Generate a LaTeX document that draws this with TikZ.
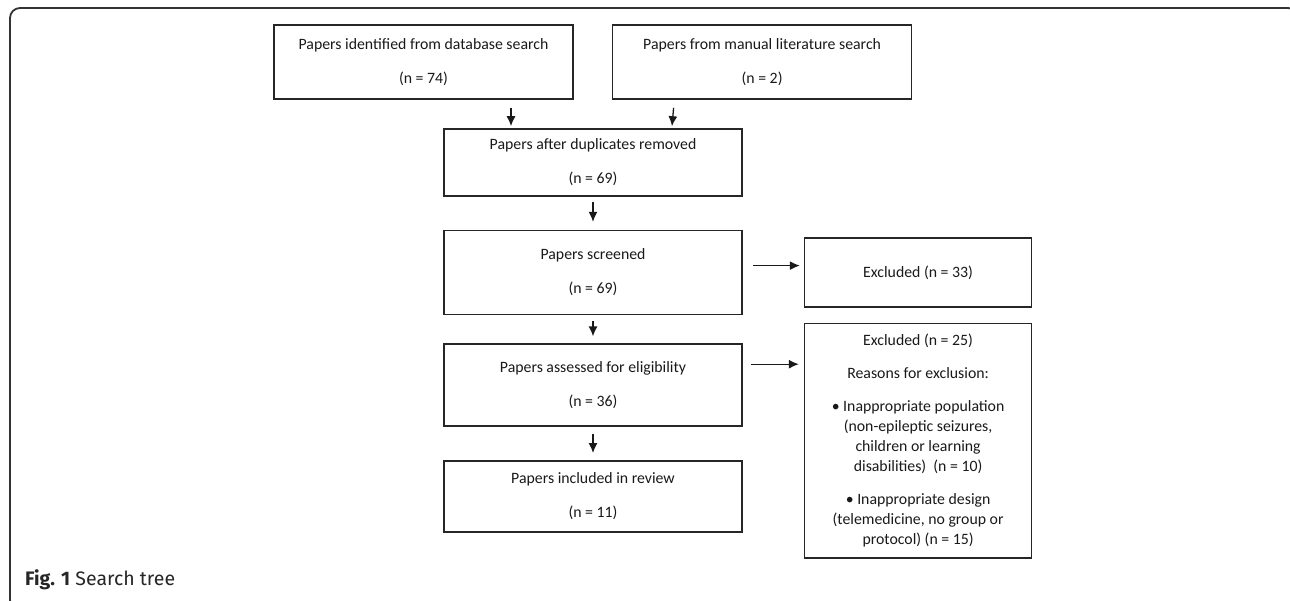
\documentclass[tikz,border=0pt]{standalone}
\usepackage{fontspec}
\setmainfont{Carlito}
\newfontfamily\capfont{Fira Sans}
\usetikzlibrary{positioning,arrows.meta}

\begin{document}
\begin{tikzpicture}[x=1pt,y=1pt,
  box/.style={draw=black!85,line width=1.6pt,align=center,inner sep=0pt,
    text=black!90,font=\fontsize{15.8}{20}\selectfont},
  arr/.style={-{Latex[length=10pt,width=9pt]},line width=1.3pt,black!90}]

\useasboundingbox (0,0) rectangle (1290,-601);

% outer frame
\draw[line width=1.8pt,black!80,rounded corners=10pt] (10,-8) rectangle (1298,-610);

\node (db) [box,minimum width=299pt,minimum height=74pt] at (423.5,-62)
  {Papers identified from database search\\[14pt](n = 74)};
\node (manual) [box,minimum width=299pt,minimum height=74pt,right=38pt of db]
  {Papers from manual literature search\\[14pt](n = 2)};

\node (dup) [box,minimum width=298pt,minimum height=67pt] at (593,-162.5)
  {Papers after duplicates removed\\[14pt](n = 69)};
\node (screen) [box,minimum width=298pt,minimum height=84pt,below=33pt of dup]
  {Papers screened\\[14pt](n = 69)};
\node (elig) [box,minimum width=298pt,minimum height=82pt,below=28pt of screen]
  {Papers assessed for eligibility\\[14pt](n = 36)};
\node (incl) [box,minimum width=298pt,minimum height=71pt,below=33pt of elig]
  {Papers included in review\\[14pt](n = 11)};

\node (excl1) [box,minimum width=227pt,minimum height=69pt,right=61pt of screen]
  {Excluded (n = 33)};
\node (excl2) [box,minimum width=227pt,minimum height=234pt,below=15pt of excl1]
  {Excluded (n = 25)\\[13pt]Reasons for exclusion:\\[13pt]%
   • Inappropriate population\\(non-epileptic seizures,\\children or learning\\disabilities)~~(n = 10)\\[13pt]%
   • Inappropriate design\\(telemedicine, no group or\\protocol)~(n = 15)};

\draw[arr] ([xshift=87.5pt,yshift=-8pt]db.south) -- ([xshift=-82pt,yshift=2pt]dup.north);
\draw[arr] ([xshift=-88.5pt,yshift=-8pt]manual.south) -- ([xshift=79pt,yshift=2pt]dup.north);
\draw[arr] ([yshift=-5pt]dup.south) -- ([yshift=8pt]screen.north);
\draw[arr] ([yshift=-6pt]screen.south) -- ([yshift=7pt]elig.north);
\draw[arr] ([yshift=-7pt]elig.south) -- ([yshift=7pt]incl.north);
\draw[arr] ([xshift=10pt,yshift=7pt]screen.east) -- ([xshift=-4pt,yshift=7pt]excl1.west);
\draw[arr] ([xshift=8pt,yshift=21pt]elig.east) -- ([xshift=-5pt,yshift=76.5pt]excl2.west);

\node (cap) [anchor=west,inner sep=0pt,text=black!85,font=\capfont\fontsize{19.5}{22}\selectfont]
  at (25,-580) {\textbf{Fig. 1} Search tree};

\end{tikzpicture}
\end{document}
